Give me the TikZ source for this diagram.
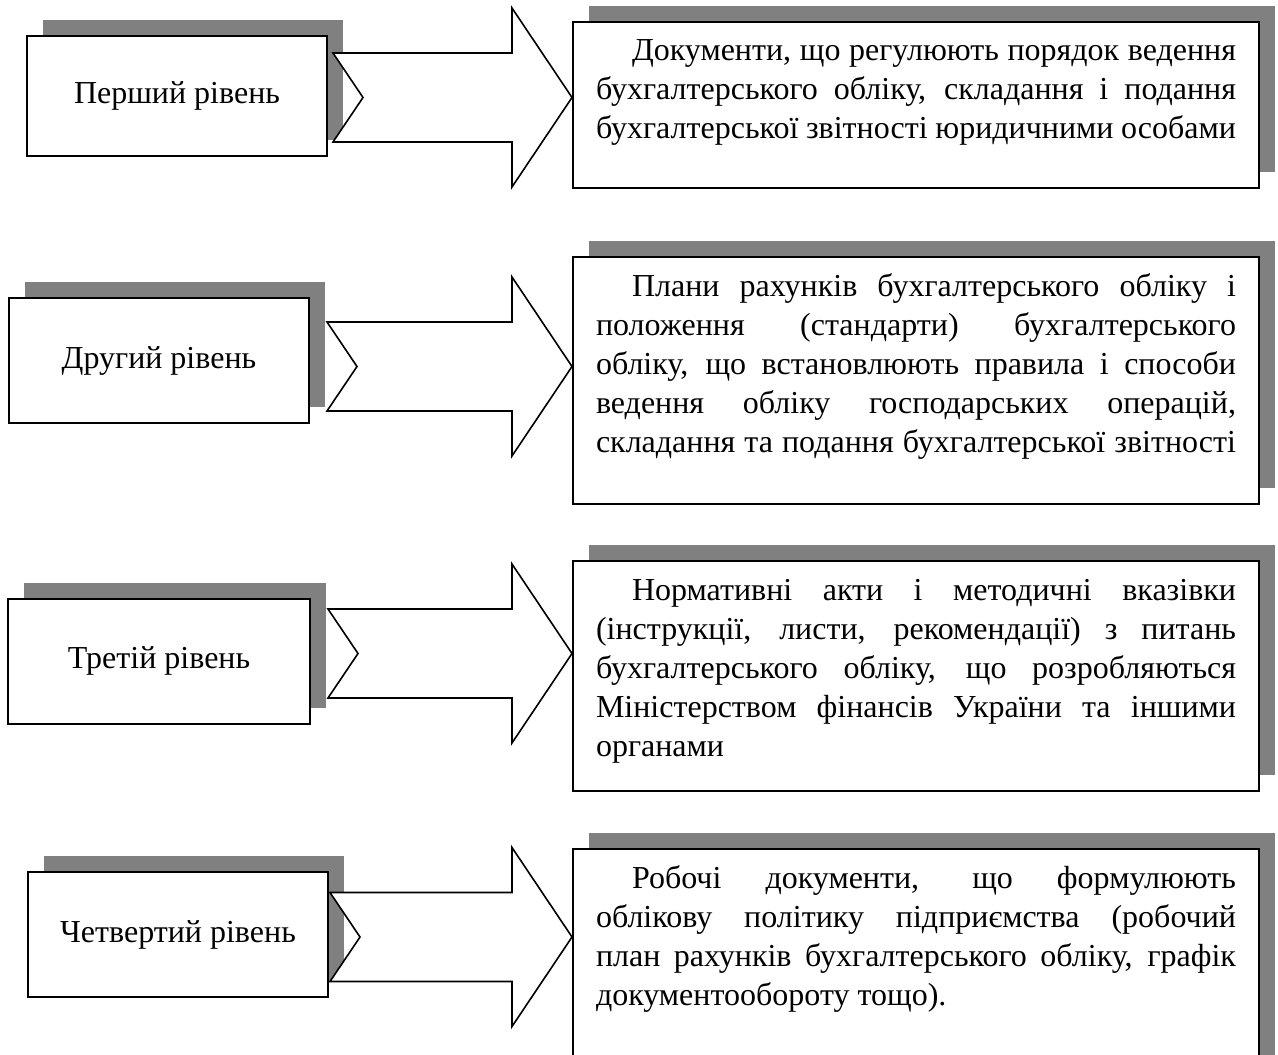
\documentclass[tikz,border=0pt]{standalone}
\usepackage{fontspec}
\setmainfont{Liberation Serif}
\usetikzlibrary{shadows}
\definecolor{shadowgray}{HTML}{808080}
\newcommand{\levelbody}[2]{\parbox[c][#1][t]{320pt}{\rule{0pt}{19.5pt}\hspace*{18pt}#2}}

\begin{document}
\begin{tikzpicture}[x=0.5pt, y=-0.5pt,
        every node/.style={font=\fontsize{16pt}{19.5pt}\selectfont},
        levelbox/.style={draw, line width=1pt, fill=white, minimum width=150pt, minimum height=62.5pt,
          drop shadow={shadow xshift=8pt, shadow yshift=8pt, fill=shadowgray, opacity=1}},
        textbox/.style={draw, line width=1pt, fill=white, anchor=north west, inner xsep=11.5pt, inner ysep=0pt,
          drop shadow={shadow xshift=8pt, shadow yshift=8pt, fill=shadowgray, opacity=1}},
        blockarrow/.style={draw, line width=0.8pt, fill=white, line join=miter}]
        \useasboundingbox (0,0) rectangle (1278,1054);
        \clip (0,0) rectangle (1278,1054);

        \node[levelbox, minimum height=60pt] (l1) at (177,96) {Перший рівень};
        \node[levelbox] (l2) at (159,360.5) {Другий рівень};
        \node[levelbox, minimum width=151pt] (l3) at (159,661) {Третій рівень};
        \node[levelbox] (l4) at (178,934.5) {Четвертий рівень};

        \node[textbox] (r1) at (572,21) {\levelbody{83pt}{\parfillskip=0pt Документи, що регулюють порядок ведення\linebreak
          бухгалтерського обліку, складання і подання\linebreak
          бухгалтерської звітності юридичними особами}};
        \node[textbox] (r2) at (572,256) {\levelbody{123.5pt}{\parfillskip=0pt Плани рахунків бухгалтерського обліку і\linebreak
          положення (стандарти) бухгалтерського\linebreak
          обліку, що встановлюють правила і способи\linebreak
          ведення обліку господарських операцій,\linebreak
          складання та подання бухгалтерської звітності}};
        \node[textbox] (r3) at (572,560) {\levelbody{115pt}{Нормативні акти і методичні вказівки\linebreak
          (інструкції, листи, рекомендації) з питань\linebreak
          бухгалтерського обліку, що розробляються\linebreak
          Міністерством фінансів України та іншими\linebreak
          органами}};
        \node[textbox] (r4) at (572,848) {\levelbody{120pt}{Робочі документи, що формулюють\linebreak
          облікову політику підприємства (робочий\linebreak
          план рахунків бухгалтерського обліку, графік\linebreak
          документообороту тощо).}};

        \foreach \i/\tx/\cy in {1/333/97.5, 2/327/366.5, 3/328/653.5, 4/330/937}{
          \coordinate (a\i) at (\tx,\cy);
          \coordinate (b\i) at (r\i.west |- a\i);
          \draw[blockarrow] ([shift={(0,-44.5)}]a\i) -- ([shift={(-60,-44.5)}]b\i) -- ([shift={(-60,-89.5)}]b\i)
            -- (b\i) -- ([shift={(-60,89.5)}]b\i) -- ([shift={(-60,44.5)}]b\i) -- ([shift={(0,44.5)}]a\i)
            -- ([shift={(30,0)}]a\i) -- cycle;
        }
\end{tikzpicture}
\end{document}
